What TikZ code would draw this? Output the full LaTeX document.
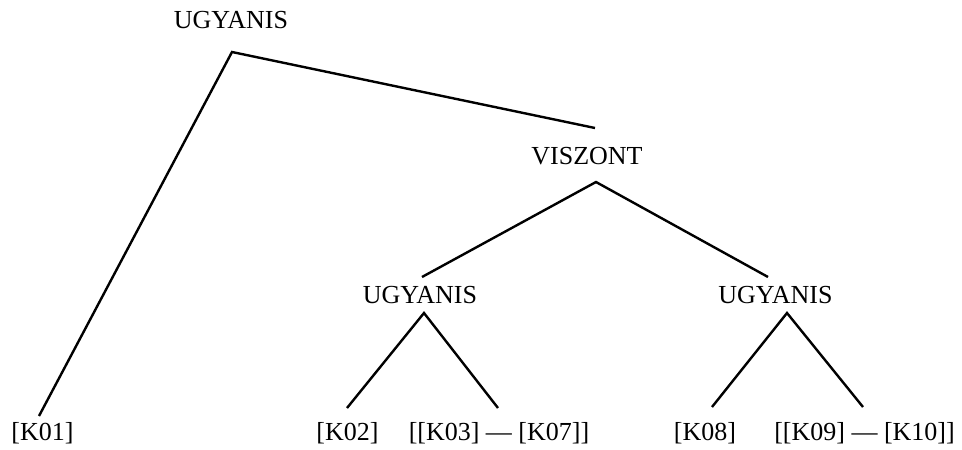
\documentclass[tikz,border=0pt]{standalone}
\usepackage{fontspec}
\setmainfont{Liberation Serif}
\begin{document}
\begin{tikzpicture}[x=1pt,y=-1pt,
  lbl/.style={anchor=base,inner sep=0pt,font=\fontsize{26}{30}\selectfont},
  edge/.style={line width=2.4pt,line cap=butt,line join=miter}]
\useasboundingbox (0,0) rectangle (962,450);
% labels
\node[lbl] (u1) at (231,28.5) {UGYANIS};
\node[lbl] (v) at (587,164.5) {VISZONT};
\node[lbl] (u2) at (420,303.5) {UGYANIS};
\node[lbl] (u3) at (775.5,303.5) {UGYANIS};
\node[lbl] (k01) at (42.5,440) {[K01]};
\node[lbl] (k02) at (347.5,440) {[K02]};
\node[lbl] (k0307) at (499,440) {[[K03] — [K07]]};
\node[lbl] (k08) at (705,440) {[K08]};
\node[lbl] (k0910) at (864.5,440) {[[K09] — [K10]]};
% connector endpoints
\coordinate (u1b) at (232,52);
\coordinate (vt) at (595,128);
\coordinate (vb) at (596,182);
\coordinate (u2t) at (422,277);
\coordinate (u2b) at (424,313);
\coordinate (u3t) at (768,277);
\coordinate (u3b) at (787,313);
\coordinate (k01t) at (39,416);
\coordinate (k02t) at (347,408);
\coordinate (k0307t) at (498,408);
\coordinate (k08t) at (712,407);
\coordinate (k0910t) at (863,407);
% connectors
\draw[edge] (k01t) -- (u1b) -- (vt);
\draw[edge] (u2t) -- (vb) -- (u3t);
\draw[edge] (k02t) -- (u2b) -- (k0307t);
\draw[edge] (k08t) -- (u3b) -- (k0910t);
\end{tikzpicture}
\end{document}
